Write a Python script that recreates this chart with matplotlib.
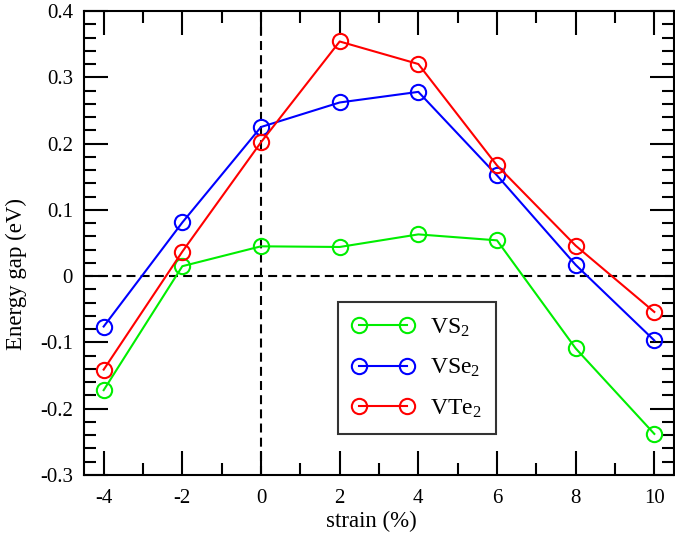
import matplotlib
matplotlib.use("Agg")
import matplotlib.pyplot as plt
import numpy as np

strain = [-4, -2, 0, 2, 4, 6, 8, 10]
vs2 = [-0.172, 0.015, 0.045, 0.044, 0.063, 0.054, -0.109, -0.238]
vse2 = [-0.076, 0.081, 0.225, 0.262, 0.278, 0.152, 0.017, -0.097]
vte2 = [-0.141, 0.037, 0.202, 0.354, 0.320, 0.167, 0.046, -0.054]
labels = ["VS$_2$", "VSe$_2$", "VTe$_2$"]
colors = ["#00ee00", "#0000ff", "#ff0000"]
xticks = [-4, -2, 0, 2, 4, 6, 8, 10]
yticks = [-0.3, -0.2, -0.1, 0, 0.1, 0.2, 0.3, 0.4]
yticklabels = ['-0.3', '-0.2', '-0.1', '0', '0.1', '0.2', '0.3', '0.4']

plt.rcParams['font.family'] = ['Liberation Serif', 'DejaVu Serif']
plt.rcParams['mathtext.fontset'] = 'custom'
plt.rcParams['mathtext.rm'] = 'Liberation Serif'
plt.rcParams['mathtext.default'] = 'regular'

fig = plt.figure(figsize=(6.75, 5.39), dpi=100)
ax = fig.add_axes([84/675, 1-475/539, 590/675, 464/539])

ax.axhline(0, color='black', lw=1.5, ls=(0, (4.3, 2.5)), zorder=1)
ax.axvline(0, color='black', lw=1.5, ls=(0, (4.3, 2.5)), zorder=1)

for y, lab, c in zip([vs2, vse2, vte2], labels, colors):
    ax.plot(strain, y, color=c, lw=1.5, marker='o', ms=11, mfc='none',
            mec=c, mew=1.5, label=lab, zorder=3)

ax.set_xlim(-4.5, 10.5)
ax.set_ylim(-0.3, 0.4)
ax.set_xticks(xticks)
ax.set_xticklabels([str(v) for v in xticks])
ax.set_xticks(np.arange(-3, 11, 2), minor=True)
ax.set_yticks(yticks)
ax.set_yticklabels(yticklabels)
ax.set_yticks(np.arange(-0.3, 0.401, 0.02), minor=True)

ax.tick_params(which='both', direction='in', top=True, right=True,
               labelsize=15, width=1.5)
ax.tick_params(axis='y', pad=8)
ax.tick_params(axis='x', pad=10)
ax.tick_params(which='major', length=17)
ax.tick_params(which='minor', length=8.5)
for s in ax.spines.values():
    s.set_linewidth(1.5)

ax.set_xlabel('strain (%)', fontsize=16.5)
ax.set_ylabel('Energy gap (eV)', fontsize=16.5, va='center', ha='center')
ax.xaxis.set_label_coords((371-84)/590, (475-511)/464)
ax.yaxis.set_label_coords((16-84)/590, (475-273.5)/464)

leg = ax.legend(loc='lower left', bbox_to_anchor=(0.4305, 0.088),
                borderaxespad=0, fontsize=17, numpoints=2, handlelength=2.63,
                handletextpad=0.68, fancybox=False, frameon=True,
                edgecolor='black', borderpad=0.6, labelspacing=0.78)
leg.get_frame().set_linewidth(1.5)

fig.savefig('out.png', dpi=100)
